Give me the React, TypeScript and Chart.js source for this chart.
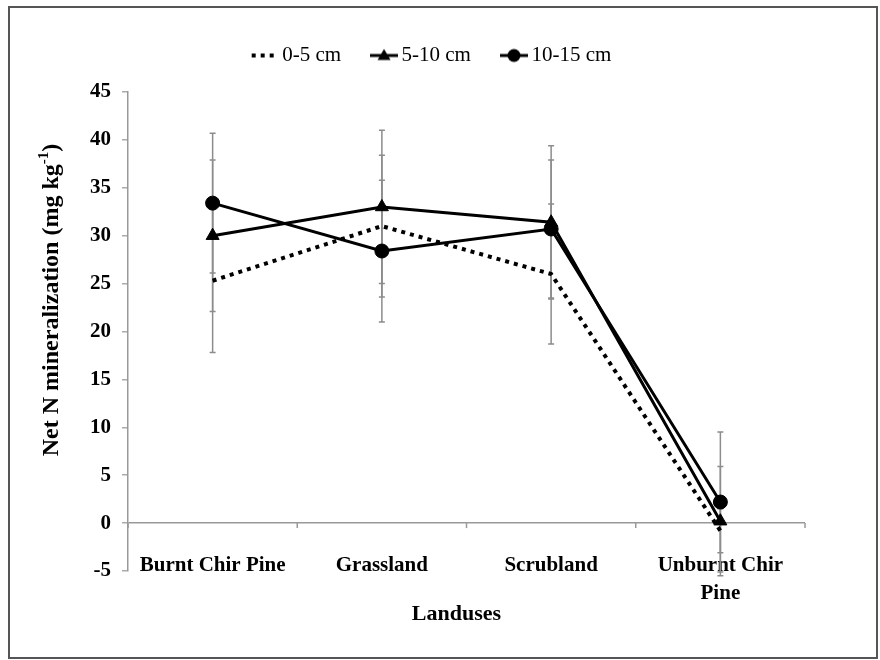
import React, { useEffect, useRef } from "react";
import { Chart, registerables } from "chart.js";

Chart.register(...registerables);

// ---- data ----
const categories: (string | string[])[] = ["Burnt Chir Pine", "Grassland", "Scrubland", ["Unburnt Chir", "Pine"]];
const seriesNames = ["0-5 cm", "5-10 cm", "10-15 cm"];
const depth0to5 = [25.3, 31.0, 26.0, -0.8];
const depth5to10 = [30.0, 33.0, 31.4, 0.2];
const depth10to15 = [33.4, 28.4, 30.7, 2.2];
const err0to5 = [7.5, 7.4, 7.3, 2.3];
const err5to10 = [7.9, 8.0, 8.0, 5.7];
const err10to15 = [7.3, 7.4, 7.2, 7.3];
const yMin = -5;
const yMax = 45;
const yStep = 5;
const yTitleMain = "Net N mineralization (mg kg";
const yTitleSup = "-1";
const yTitleEnd = ")";
const xTitle = "Landuses";

const FONT = '"Liberation Serif", "Times New Roman", serif';
const errorArrays = [err0to5, err5to10, err10to15];

function makeIcon(kind: "dot" | "tri" | "circ"): HTMLCanvasElement {
  const c = document.createElement("canvas");
  c.width = 28;
  c.height = 18;
  const ctx = c.getContext("2d")!;
  ctx.strokeStyle = "#000";
  ctx.fillStyle = "#000";
  if (kind === "dot") {
    ctx.lineWidth = 4;
    ctx.setLineDash([4, 5]);
    ctx.beginPath();
    ctx.moveTo(1, 9);
    ctx.lineTo(28, 9);
    ctx.stroke();
  } else {
    ctx.lineWidth = 3;
    ctx.beginPath();
    ctx.moveTo(0, 9);
    ctx.lineTo(28, 9);
    ctx.stroke();
    ctx.beginPath();
    if (kind === "tri") {
      ctx.moveTo(14, 2.5);
      ctx.lineTo(20.5, 13.5);
      ctx.lineTo(7.5, 13.5);
      ctx.closePath();
    } else {
      ctx.arc(14, 9, 6.5, 0, Math.PI * 2);
    }
    ctx.fill();
  }
  return c;
}

const errorBarPlugin = {
  id: "errorBars",
  beforeDatasetsDraw(chart: any) {
    const ctx = chart.ctx;
    const y = chart.scales.y;
    ctx.save();
    ctx.strokeStyle = "#8c8c8c";
    ctx.lineWidth = 1.5;
    chart.data.datasets.forEach((ds: any, i: number) => {
      const meta = chart.getDatasetMeta(i);
      const errs = errorArrays[i];
      meta.data.forEach((pt: any, j: number) => {
        const v = ds.data[j];
        const e = errs[j];
        const x = pt.x;
        const top = y.getPixelForValue(v + e);
        const bot = y.getPixelForValue(v - e);
        ctx.beginPath();
        ctx.moveTo(x, top);
        ctx.lineTo(x, bot);
        ctx.moveTo(x - 3, top);
        ctx.lineTo(x + 3, top);
        ctx.moveTo(x - 3, bot);
        ctx.lineTo(x + 3, bot);
        ctx.stroke();
      });
    });
    ctx.restore();
  },
};

const decorPlugin = {
  id: "decor",
  afterLayout(chart: any) {
    const lg = chart.legend;
    if (lg) {
      lg.left += 17;
      lg.right += 17;
      lg.top -= 16;
      lg.bottom -= 16;
    }
  },
  beforeDatasetsDraw(chart: any) {
    const ctx = chart.ctx;
    const x = chart.scales.x;
    const y = chart.scales.y;
    const y0 = y.getPixelForValue(0);
    ctx.save();
    ctx.strokeStyle = "#999";
    ctx.lineWidth = 1.5;
    const n = categories.length;
    for (let j = 0; j <= n; j++) {
      let px;
      if (j === 0) px = chart.chartArea.left;
      else if (j === n) px = chart.chartArea.right;
      else px = (x.getPixelForValue(j - 1) + x.getPixelForValue(j)) / 2;
      ctx.beginPath();
      ctx.moveTo(px, y0);
      ctx.lineTo(px, y0 + 5);
      ctx.stroke();
    }
    ctx.restore();
  },
  afterDraw(chart: any) {
    const ctx = chart.ctx;
    const area = chart.chartArea;
    ctx.save();
    ctx.fillStyle = "#000";
    // y title
    ctx.translate(52, 300);
    ctx.rotate(-Math.PI / 2);
    ctx.textBaseline = "middle";
    ctx.textAlign = "left";
    ctx.font = `bold 24px ${FONT}`;
    const wm = ctx.measureText(yTitleMain).width;
    const we = ctx.measureText(yTitleEnd).width;
    ctx.font = `bold 15px ${FONT}`;
    const ws = ctx.measureText(yTitleSup).width;
    const total = wm + ws + we;
    const x0 = -total / 2;
    ctx.font = `bold 24px ${FONT}`;
    ctx.fillText(yTitleMain, x0, 0);
    ctx.font = `bold 15px ${FONT}`;
    ctx.fillText(yTitleSup, x0 + wm, -8);
    ctx.font = `bold 24px ${FONT}`;
    ctx.fillText(yTitleEnd, x0 + wm + ws, 0);
    ctx.restore();
    // x title
    ctx.save();
    ctx.fillStyle = "#000";
    ctx.font = `bold 22px ${FONT}`;
    ctx.textAlign = "center";
    ctx.textBaseline = "middle";
    ctx.fillText(xTitle, (area.left + area.right) / 2 - 10, 614);
    ctx.restore();
  },
};

export default function App() {
  const ref = useRef<HTMLCanvasElement>(null);
  useEffect(() => {
    if (!ref.current) return;
    const icons = [makeIcon("dot"), makeIcon("tri"), makeIcon("circ")];
    const chart = new Chart(ref.current, {
      type: "line",
      data: {
        labels: categories as any,
        datasets: [
          {
            label: seriesNames[0],
            data: depth0to5,
            borderColor: "#000",
            backgroundColor: "#000",
            borderWidth: 4,
            borderDash: [4, 5],
            pointRadius: 0,
            pointHoverRadius: 0,
          },
          {
            label: seriesNames[1],
            data: depth5to10,
            borderColor: "#000",
            backgroundColor: "#000",
            borderWidth: 3,
            pointStyle: "triangle",
            pointRadius: 7.5,
            pointBorderWidth: 1,
          },
          {
            label: seriesNames[2],
            data: depth10to15,
            borderColor: "#000",
            backgroundColor: "#000",
            borderWidth: 3,
            pointStyle: "circle",
            pointRadius: 7,
            pointBorderWidth: 1,
          },
        ],
      },
      options: {
        responsive: false,
        animation: false,
        events: [],
        layout: { padding: { left: 30, right: 75, top: 25, bottom: 0 } },
        plugins: {
          legend: {
            position: "top",
            labels: {
              usePointStyle: true,
              pointStyleWidth: 14,
              padding: 36,
              color: "#000",
              font: { family: FONT, size: 21 },
              generateLabels: () =>
                seriesNames.map((name, i) => ({
                  text: name,
                  pointStyle: icons[i] as any,
                  fillStyle: "#000",
                  strokeStyle: "#000",
                  lineWidth: 0,
                  hidden: false,
                  datasetIndex: i,
                })),
            },
          },
          tooltip: { enabled: false },
        },
        scales: {
          x: {
            offset: true,
            grid: { display: false, drawTicks: false },
            border: { display: false },
            ticks: {
              color: "#000",
              padding: -9,
              mirror: true,
              maxRotation: 0,
              autoSkip: false,
              font: { family: FONT, size: 21, weight: "bold", lineHeight: 1.33 },
            },
            afterFit: (s: any) => {
              s.height = 89;
            },
          },
          y: {
            min: yMin,
            max: yMax,
            ticks: {
              stepSize: yStep,
              color: "#000",
              padding: 11,
              font: { family: FONT, size: 21, weight: "bold" },
            },
            grid: {
              drawOnChartArea: true,
              tickLength: 6,
              lineWidth: 1.5,
              color: (c: any) => (c.tick && c.tick.value === 0 ? "#999" : "rgba(0,0,0,0)"),
              tickColor: "#aaa",
            },
            border: { color: "#999", width: 1.5 },
            afterFit: (s: any) => {
              s.width = 98;
            },
          },
        },
      },
      plugins: [errorBarPlugin, decorPlugin],
    });
    return () => chart.destroy();
  }, []);

  return (
    <div style={{ position: "absolute", left: 0, top: 0, width: 880, height: 660, background: "#fff" }}>
      <canvas ref={ref} width={880} height={660} style={{ display: "block" }} />
      <div
        style={{
          position: "absolute",
          left: 8,
          top: 6,
          width: 870,
          height: 653,
          border: "2px solid #555",
          boxSizing: "border-box",
          pointerEvents: "none",
        }}
      />
    </div>
  );
}
